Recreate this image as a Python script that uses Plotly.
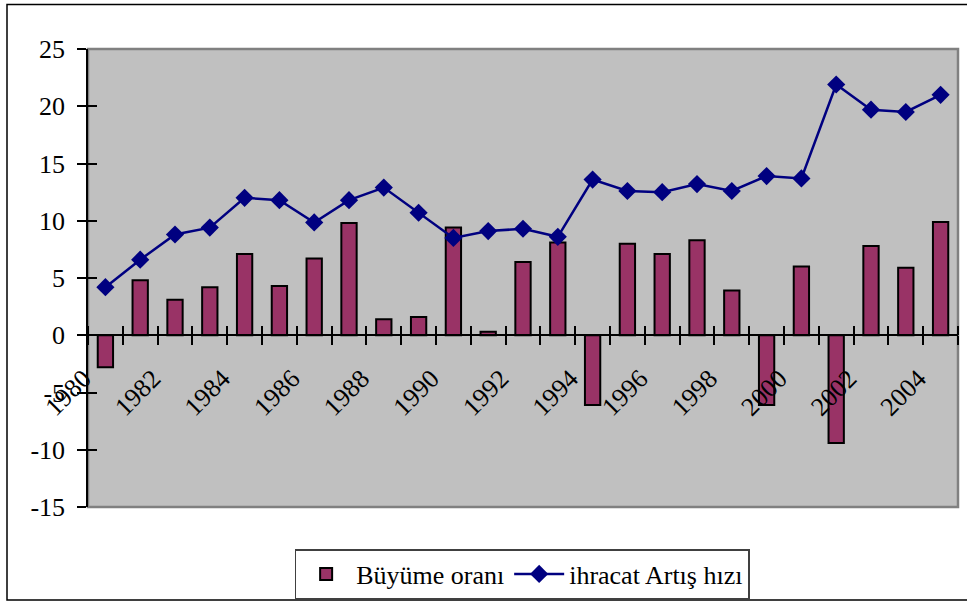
import plotly.graph_objects as go

years = list(range(1980, 2005))
buyume = [-2.8, 4.8, 3.1, 4.2, 7.1, 4.3, 6.7, 9.8, 1.4, 1.6, 9.4, 0.3, 6.4, 8.1,
          -6.1, 8.0, 7.1, 8.3, 3.9, -6.1, 6.0, -9.4, 7.8, 5.9, 9.9]
ihracat = [4.2, 6.6, 8.8, 9.4, 12.0, 11.8, 9.85, 11.8, 12.9, 10.7, 8.5, 9.1, 9.3, 8.6,
           13.6, 12.6, 12.5, 13.2, 12.6, 13.9, 13.7, 21.9, 19.7, 19.5, 21.0]
tick_years = [y for y in years if y % 2 == 0]
tick_labels = [str(y) for y in tick_years]
y_ticks = [-15, -10, -5, 0, 5, 10, 15, 20, 25]
y_labels = [str(v) for v in y_ticks]

FONT = "Liberation Serif"
FS = 26
W, H = 967, 601
L, R, T, B = 88, 9, 49, 94
pw, ph = W - L - R, H - T - B

def px_x(p):
    return (p - L) / pw

def px_y(p):
    return (H - B - p) / ph

fig = go.Figure()
fig.add_trace(go.Bar(
    x=years, y=buyume, name="Büyüme oranı",
    marker=dict(color="#993366", line=dict(color="black", width=2)),
    width=0.44,
))
fig.add_trace(go.Scatter(
    x=years, y=ihracat, name="ihracat Artış hızı", mode="lines+markers",
    line=dict(color="#000080", width=2.5),
    marker=dict(symbol="diamond", size=14, color="#000080"),
))

zero_pos = (0 - (-15)) / 40

fig.update_layout(
    width=W, height=H,
    margin=dict(l=L, r=R, t=T, b=B, autoexpand=False),
    paper_bgcolor="white",
    plot_bgcolor="#C0C0C0",
    font=dict(family=FONT, size=FS, color="black"),
    showlegend=True,
    legend=dict(
        orientation="h", x=0.499, xanchor="center", y=px_y(549), yanchor="top",
        bordercolor="#404040", borderwidth=1.5, bgcolor="white",
        font=dict(family=FONT, size=FS), itemwidth=50,
    ),
    xaxis=dict(
        range=[1979.5, 2004.5], anchor="free", position=zero_pos, automargin=False,
        showline=True, linecolor="black", linewidth=1.5,
        tickvals=tick_years, ticktext=tick_labels, tickangle=-45,
        ticks="", showgrid=False, zeroline=False,
        ticklabelstandoff=17, ticklabelshift=-22,
        minor=dict(tick0=1979.5, dtick=1, ticks="outside", ticklen=9,
                   tickcolor="black", tickwidth=1.5, showgrid=False),
        tickfont=dict(family=FONT, size=FS),
    ),
    xaxis2=dict(
        range=[1979.5, 2004.5], anchor="free", position=zero_pos, overlaying="x",
        automargin=False,
        showline=False, showticklabels=False, ticks="", showgrid=False, zeroline=False,
        tickvals=[],
        minor=dict(tick0=1979.5, dtick=1, ticks="inside", ticklen=9,
                   tickcolor="black", tickwidth=1.5, showgrid=False),
    ),
    yaxis=dict(
        range=[-15, 25], tickvals=y_ticks, ticktext=y_labels, ticks="outside", ticklen=9,
        tickcolor="black", tickwidth=1.5, automargin=False,
        showline=True, linecolor="black", linewidth=1.5,
        showgrid=False, zeroline=False, ticklabelstandoff=7,
        tickfont=dict(family=FONT, size=FS),
    ),
    yaxis2=dict(
        range=[-15, 25], overlaying="y", tickvals=y_ticks, ticks="inside", ticklen=9,
        tickcolor="black", tickwidth=1.5, showticklabels=False, automargin=False,
        showline=False, showgrid=False, zeroline=False,
    ),
    shapes=[
        dict(type="rect", xref="paper", yref="paper", x0=0, x1=1, y0=0, y1=1,
             line=dict(color="#808080", width=2.5), layer="below"),
        dict(type="rect", xref="paper", yref="paper",
             x0=px_x(7), x1=px_x(975), y0=px_y(600), y1=px_y(4.5),
             line=dict(color="black", width=1.5)),
    ],
)
fig.add_trace(go.Scatter(x=[None], y=[None], xaxis="x2", yaxis="y2", showlegend=False))

fig.write_html("out.html", config={"displayModeBar": False},
               post_script="document.body.style.margin='0';document.body.style.overflow='hidden';")
